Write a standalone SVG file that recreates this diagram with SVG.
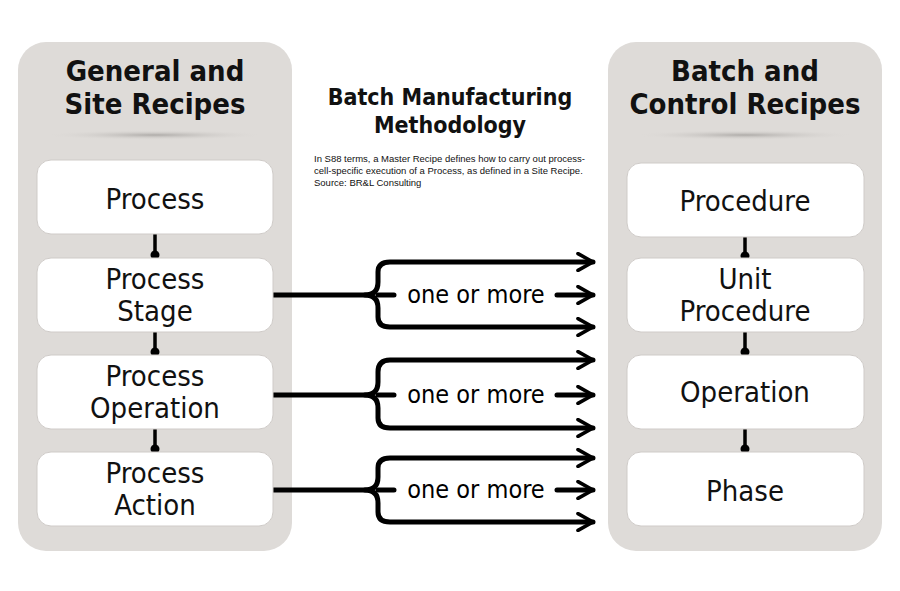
<svg xmlns="http://www.w3.org/2000/svg" width="900" height="591" viewBox="0 0 900 591">
<defs>
<style>
.panel{fill:#dedbd8}
.node{fill:#fff;stroke:#cfcbc8;stroke-width:1}
.t{font-family:"DejaVu Sans Condensed","Liberation Sans Narrow",sans-serif;fill:#111;text-anchor:middle}
.nt{font-size:29px}
.ht{font-size:29px;font-weight:bold}
.w{fill:none;stroke:#000;stroke-width:5;stroke-linecap:round;stroke-linejoin:round}
.lab{font-family:"DejaVu Sans Condensed",sans-serif;font-size:25px;fill:#000;text-anchor:middle}
</style>
<radialGradient id="sh" cx="0.5" cy="0.5" r="0.5"><stop offset="0" stop-color="#9a9794" stop-opacity="0.7"/><stop offset="1" stop-color="#dedbd8" stop-opacity="0"/></radialGradient>
<marker id="ch" viewBox="0 0 12 12" refX="10" refY="6" markerWidth="4" markerHeight="4" orient="auto" markerUnits="strokeWidth"><path d="M1,1 L10,6 L1,11" fill="none" stroke="#000" stroke-width="2.2" stroke-linecap="round" stroke-linejoin="round"/></marker>
</defs>
<rect width="900" height="591" fill="#fff"/>
<g id="left-panel">
<rect class="panel" x="18" y="42" width="274" height="509" rx="28"/>
<ellipse cx="155" cy="135" rx="110" ry="5" fill="url(#sh)"/>
<text class="t ht" x="155" y="81">General and</text>
<text class="t ht" x="155" y="114">Site Recipes</text>
</g>
<g id="right-panel">
<rect class="panel" x="608" y="42" width="274" height="509" rx="28"/>
<ellipse cx="745" cy="135" rx="110" ry="5" fill="url(#sh)"/>
<text class="t ht" x="745" y="81">Batch and</text>
<text class="t ht" x="745" y="114">Control Recipes</text>
</g>
<g id="title">
<text class="t" x="450" y="105" font-size="23" font-weight="bold">Batch Manufacturing</text>
<text class="t" x="450" y="133" font-size="23" font-weight="bold">Methodology</text>
<text font-family="'Liberation Sans',sans-serif" font-size="9.5" fill="#111" x="314" y="162">In S88 terms, a Master Recipe defines how to carry out process-</text>
<text font-family="'Liberation Sans',sans-serif" font-size="9.5" fill="#111" x="314" y="174">cell-specific execution of a Process, as defined in a Site Recipe.</text>
<text font-family="'Liberation Sans',sans-serif" font-size="9.5" fill="#111" x="314" y="186">Source: BR&amp;L Consulting</text>
</g>
<g id="connectors">
<g stroke="#000" stroke-width="3.5"><line x1="155" y1="234" x2="155" y2="258"/><line x1="155" y1="332" x2="155" y2="355"/><line x1="155" y1="429" x2="155" y2="452"/><line x1="745" y1="237" x2="745" y2="258"/><line x1="745" y1="332" x2="745" y2="355"/><line x1="745" y1="429" x2="745" y2="452"/></g>
<g fill="#000"><circle cx="155" cy="255" r="4.5"/><circle cx="155" cy="352" r="4.5"/><circle cx="155" cy="449" r="4.5"/><circle cx="745" cy="256" r="4.5"/><circle cx="745" cy="352" r="4.5"/><circle cx="745" cy="449" r="4.5"/></g>
<path class="w" d="M273,295 H365 Q378,295 378,282 V272 Q378,262 390,262 H593" marker-end="url(#ch)"/>
<path class="w" d="M365,295 Q378,295 378,308 V317 Q378,327 390,327 H593" marker-end="url(#ch)"/>
<path class="w" d="M378,295 H394 M557,295 H593" marker-end="url(#ch)"/>
<text class="lab" x="476" y="303">one or more</text>
<path class="w" d="M273,395 H365 Q378,395 378,382 V372 Q378,360 390,360 H593" marker-end="url(#ch)"/>
<path class="w" d="M365,395 Q378,395 378,408 V418 Q378,428 390,428 H593" marker-end="url(#ch)"/>
<path class="w" d="M378,395 H394 M557,395 H593" marker-end="url(#ch)"/>
<text class="lab" x="476" y="403">one or more</text>
<path class="w" d="M273,490 H365 Q378,490 378,477 V468 Q378,458 390,458 H593" marker-end="url(#ch)"/>
<path class="w" d="M365,490 Q378,490 378,503 V512 Q378,522 390,522 H593" marker-end="url(#ch)"/>
<path class="w" d="M378,490 H394 M557,490 H593" marker-end="url(#ch)"/>
<text class="lab" x="476" y="498">one or more</text>
</g>
<g id="n-process"><rect class="node" x="37" y="160" width="236" height="74" rx="14"/><text class="t nt" x="155" y="209">Process</text></g>
<g id="n-stage"><rect class="node" x="37" y="258" width="236" height="74" rx="14"/><text class="t nt" x="155" y="289">Process</text><text class="t nt" x="155" y="321">Stage</text></g>
<g id="n-operation"><rect class="node" x="37" y="355" width="236" height="74" rx="14"/><text class="t nt" x="155" y="386">Process</text><text class="t nt" x="155" y="418">Operation</text></g>
<g id="n-action"><rect class="node" x="37" y="452" width="236" height="74" rx="14"/><text class="t nt" x="155" y="483">Process</text><text class="t nt" x="155" y="515">Action</text></g>
<g id="n-procedure"><rect class="node" x="627" y="163" width="237" height="74" rx="14"/><text class="t nt" x="745" y="211">Procedure</text></g>
<g id="n-unitproc"><rect class="node" x="627" y="258" width="237" height="74" rx="14"/><text class="t nt" x="745" y="289">Unit</text><text class="t nt" x="745" y="321">Procedure</text></g>
<g id="n-op"><rect class="node" x="627" y="355" width="237" height="74" rx="14"/><text class="t nt" x="745" y="402">Operation</text></g>
<g id="n-phase"><rect class="node" x="627" y="452" width="237" height="74" rx="14"/><text class="t nt" x="745" y="501">Phase</text></g>
</svg>
